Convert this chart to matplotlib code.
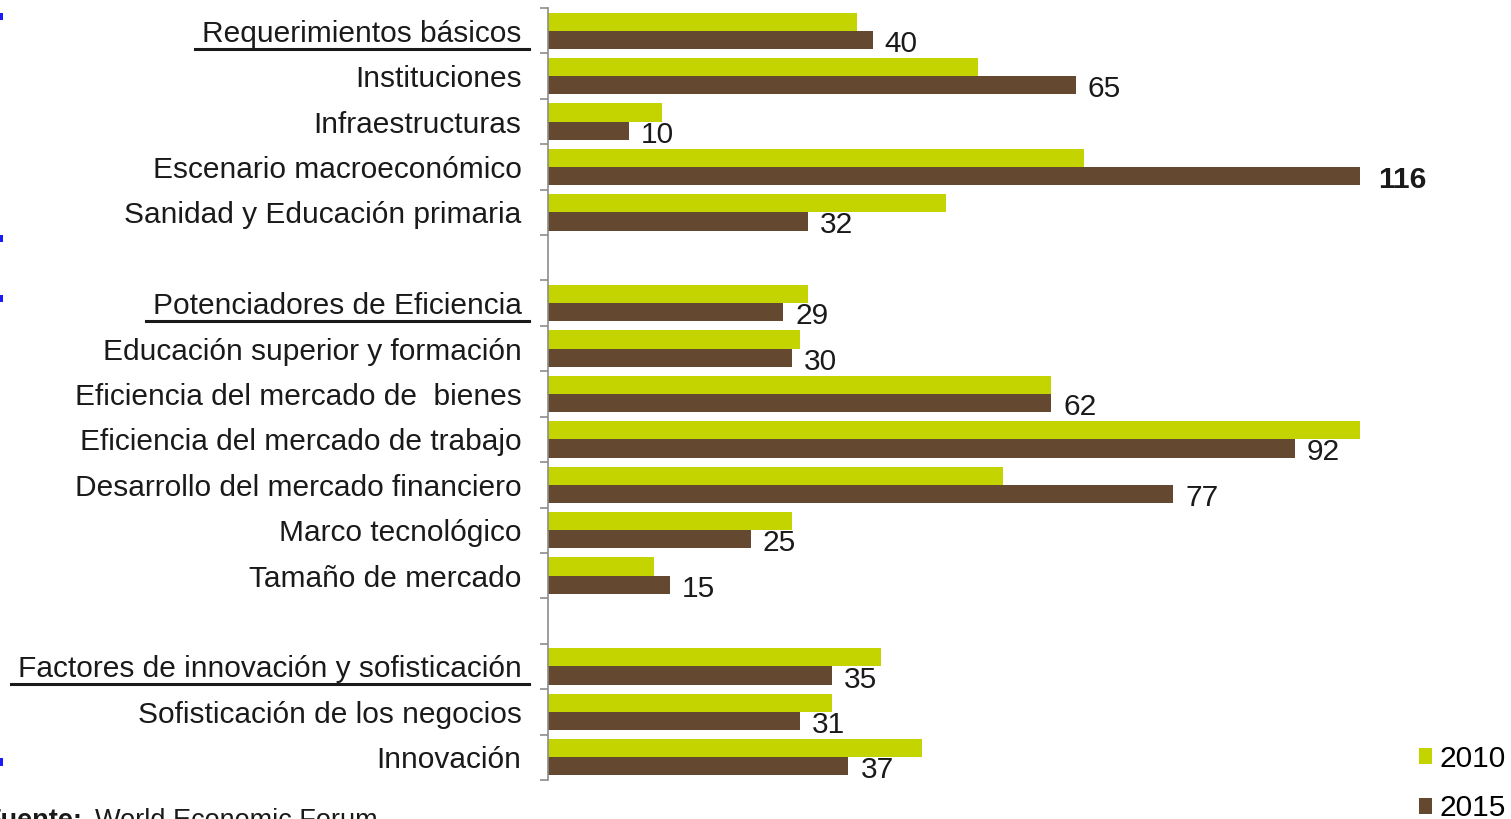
import matplotlib
matplotlib.use("Agg")
import matplotlib.pyplot as plt
from matplotlib.lines import Line2D
from matplotlib.patches import Rectangle
from matplotlib.transforms import offset_copy

plt.rcParams['font.family'] = ['Liberation Sans', 'DejaVu Sans']

# Pillars of the Global Competitiveness Index (rank of Spain)
groups = [
    ["Requerimientos básicos", "Instituciones", "Infraestructuras",
     "Escenario macroeconómico", "Sanidad y Educación primaria"],
    ["Potenciadores de Eficiencia", "Educación superior y formación",
     "Eficiencia del mercado de  bienes", "Eficiencia del mercado de trabajo",
     "Desarrollo del mercado financiero", "Marco tecnológico", "Tamaño de mercado"],
    ["Factores de innovación y sofisticación", "Sofisticación de los negocios",
     "Innovación"],
]
rank_2010 = [
    [38, 53, 14, 66, 49],
    [32, 31, 62, 115, 56, 30, 13],
    [41, 35, 46],
]
rank_2015 = [
    [40, 65, 10, 116, 32],
    [29, 30, 62, 92, 77, 25, 15],
    [35, 31, 37],
]
series_labels = ["2010", "2015"]
x_max = 100

GREEN = "#c3d400"
BROWN = "#644830"
TEXT = "#1a1a1a"
FS = 21.5

W, H, DPI = 1511, 819, 100
fig = plt.figure(figsize=(W / DPI, H / DPI), dpi=DPI)
ax = fig.add_axes([548 / W, 1 - 780 / H, (1360 - 548) / W, (780 - 8) / H])

# slot positions: one empty slot between groups
labels, v10, v15, ypos, headers = [], [], [], [], []
slot = 0
for gi, (names, a, b) in enumerate(zip(groups, rank_2010, rank_2015)):
    if gi > 0:
        slot += 1
    for i, (n, x1, x2) in enumerate(zip(names, a, b)):
        labels.append(n)
        v10.append(x1)
        v15.append(x2)
        ypos.append(slot)
        headers.append(i == 0)
        slot += 1
n_slots = slot

h = 0.4
bars10 = ax.barh([y - h / 2 for y in ypos], v10, height=h, color=GREEN,
                 label=series_labels[0])
bars15 = ax.barh([y + h / 2 for y in ypos], v15, height=h, color=BROWN,
                 label=series_labels[1])

ax.set_xlim(0, x_max)
ax.set_ylim(n_slots - 0.5, -0.5)

for s in ("top", "right", "bottom"):
    ax.spines[s].set_visible(False)
ax.spines["left"].set_color("#8c8c8c")
ax.spines["left"].set_linewidth(1.2)
ax.set_xticks([])

ax.set_yticks(ypos)
ax.set_yticklabels(labels, fontsize=FS, color=TEXT)
ax.tick_params(axis="y", which="major", length=0, pad=19)
ax.set_yticks([b - 0.5 for b in range(n_slots + 1)], minor=True)
ax.tick_params(axis="y", which="minor", length=6, width=1.2, color="#8c8c8c")

# value labels for 2015
for y, v in zip(ypos, v15):
    xv = min(v, x_max)
    bold = v > x_max
    tr = offset_copy(ax.transData, fig=fig, x=(18 if bold else 12), y=-4, units="dots")
    ax.text(xv, y + h / 2, f"{v}", transform=tr, ha="left", va="center",
            fontsize=FS, color=TEXT, fontweight="bold" if bold else "normal",
            clip_on=False)

# underline group headers
fig.canvas.draw()
renderer = fig.canvas.get_renderer()
for lbl, is_head in zip(ax.get_yticklabels(), headers):
    if not is_head:
        continue
    bb = lbl.get_window_extent(renderer)
    yl = (bb.y0 - 1) / H
    fig.add_artist(Line2D([(bb.x0 - 7) / W, (bb.x1 + 7) / W], [yl, yl],
                          transform=fig.transFigure, color=TEXT, lw=2.2))

leg = fig.legend(handles=[bars10, bars15], labels=series_labels,
                 loc="upper left", bbox_to_anchor=(1419 / W, 1 - 745 / H),
                 frameon=False, fontsize=FS, handlelength=0.45, handleheight=0.45,
                 handletextpad=0.25, labelspacing=0.72, borderpad=0,
                 borderaxespad=0)

# source line
fig.text(82 / W, -9 / H, "Fuente:", ha="right", va="baseline", fontsize=19.5,
         fontweight="bold", color=TEXT)
fig.text(95 / W, -9 / H, "World Economic Forum", ha="left", va="baseline",
         fontsize=19.5, color=TEXT)

# slide edge marks
for y0, y1 in [(13, 20), (235, 242), (295, 302), (758, 766)]:
    fig.add_artist(Rectangle((0, 1 - y1 / H), 3 / W, (y1 - y0) / H,
                             transform=fig.transFigure, color="#1a1aff", lw=0))

fig.savefig("out.png", dpi=DPI)
